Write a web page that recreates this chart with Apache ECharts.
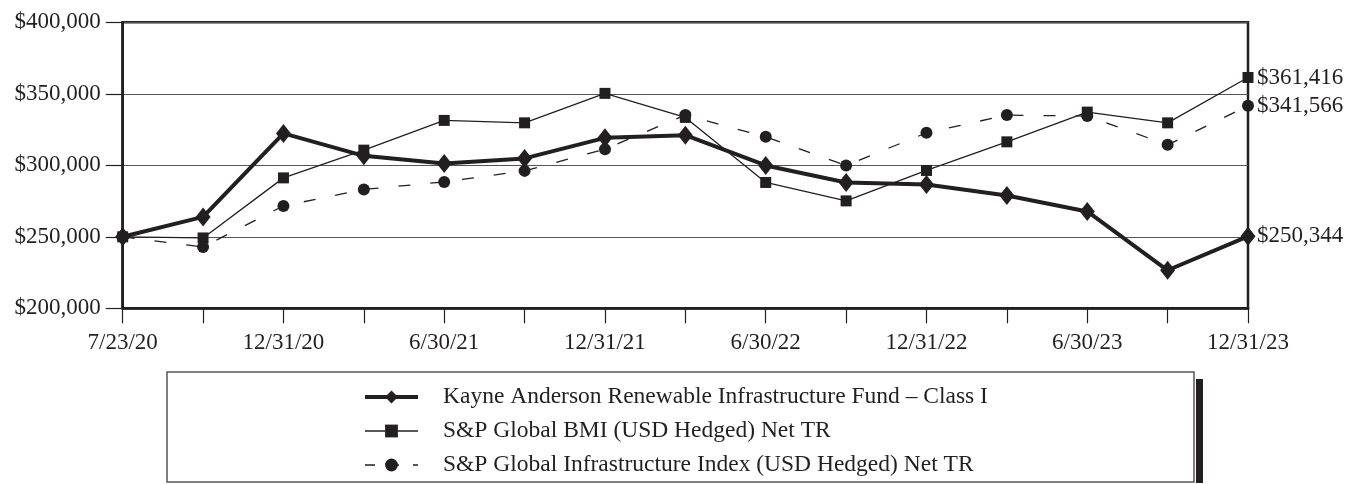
<!DOCTYPE html>
<html>
<head>
<meta charset="utf-8">
<script src="https://cdn.jsdelivr.net/npm/echarts@6/dist/echarts.min.js"></script>
<style>
    html, body { margin: 0; padding: 0; background: #fff; }
    #chart { width: 1349px; height: 484px; }
</style>
</head>
<body>
<div id="chart"></div>
<script>
// quarter-end dates, first point is fund inception
const dates = ['7/23/20', '9/30/20', '12/31/20', '3/31/21', '6/30/21', '9/30/21', '12/31/21',
    '3/31/22', '6/30/22', '9/30/22', '12/31/22', '3/31/23', '6/30/23', '9/30/23', '12/31/23']

const fundValues = [250000, 263900, 322300, 306600, 301300, 304800, 319200,
    321100, 299900, 288000, 286600, 278900, 267700, 226600, 250344]
const bmiValues = [250000, 249200, 291200, 310600, 331400, 329700, 350300,
    333500, 288000, 275100, 296400, 316400, 337200, 329700, 361416]
const infraValues = [250000, 242900, 271600, 283100, 288400, 296100, 311300,
    335100, 319900, 299900, 322700, 335100, 334400, 314300, 341566]

const seriesNames = [
    'Kayne Anderson Renewable Infrastructure Fund \u2013 Class I',
    'S&P Global BMI (USD Hedged) Net TR',
    'S&P Global Infrastructure Index (USD Hedged) Net TR'
]

const ink = '#231f20'
const font = '"Liberation Serif", "Times New Roman", serif'

function money(v){
    return '$' + Math.round(v).toLocaleString('en-US')
}

const chart = echarts.init(document.getElementById('chart'))

// last value printed to the right of the plot
const endLabel = {
    show: true,
    distance: 9,
    color: ink,
    fontFamily: font,
    fontSize: 23,
    formatter: p => money(p.value)
}

const option = {
    animation: false,
    graphic: [
        // legend frame with its drop shadow on the right
        { type: 'rect', shape: { x: 1196, y: 379, width: 7, height: 104 }, style: { fill: ink }, z: 0 },
        { type: 'rect', shape: { x: 167, y: 372, width: 1027, height: 110 },
          style: { fill: '#fff', stroke: '#555', lineWidth: 1.5 }, z: 1 }
    ],
    legend: {
        orient: 'vertical',
        left: 363,
        top: 385,
        height: 200,
        padding: 0,
        itemWidth: 53,
        itemHeight: 16,
        itemGap: 10,
        z: 5,
        textStyle: {
            color: ink,
            fontFamily: font,
            fontSize: 23.5,
            padding: [0, 0, 0, 20]
        },
        data: [
            { name: seriesNames[0], lineStyle: { width: 4 } },
            { name: seriesNames[1], lineStyle: { width: 1.3 } },
            { name: seriesNames[2], lineStyle: { width: 1.3, type: [10, 14] } }
        ]
    },
    grid: {
        left: 122.7,
        right: 101,
        top: 22.3,
        bottom: 175.7,
        show: true,
        borderColor: ink,
        borderWidth: 2.5
    },
    xAxis: {
        type: 'category',
        data: dates,
        boundaryGap: false,
        axisLine: { lineStyle: { color: ink, width: 2.5 } },
        axisTick: { show: true, length: 15, interval: 0, lineStyle: { color: ink, width: 1.2 } },
        axisLabel: {
            interval: 1,
            margin: 23,
            color: ink,
            fontFamily: font,
            fontSize: 23
        },
        splitLine: { show: false }
    },
    yAxis: {
        type: 'value',
        min: 200000,
        max: 400000,
        interval: 50000,
        axisLine: { show: true, lineStyle: { color: ink, width: 2.5 } },
        axisTick: { show: true, length: 17, lineStyle: { color: ink, width: 1.2 } },
        axisLabel: {
            margin: 22,
            color: ink,
            fontFamily: font,
            fontSize: 23,
            formatter: v => money(v)
        },
        splitLine: { lineStyle: { color: '#555', width: 1.2 } }
    },
    series: [
        {
            name: seriesNames[0],
            type: 'line',
            data: fundValues,
            z: 4,
            symbol: 'diamond',
            symbolSize: [15, 19],
            itemStyle: { color: ink },
            lineStyle: { color: ink, width: 4 },
            endLabel: endLabel
        },
        {
            name: seriesNames[1],
            type: 'line',
            data: bmiValues,
            z: 2,
            symbol: 'rect',
            symbolSize: 11,
            itemStyle: { color: ink },
            lineStyle: { color: ink, width: 1.3 },
            endLabel: endLabel
        },
        {
            name: seriesNames[2],
            type: 'line',
            data: infraValues,
            z: 3,
            symbol: 'circle',
            symbolSize: 12,
            itemStyle: { color: ink },
            lineStyle: { color: ink, width: 1.3, type: [12, 20] },
            endLabel: endLabel
        }
    ]
}

chart.setOption(option)
</script>
</body>
</html>
